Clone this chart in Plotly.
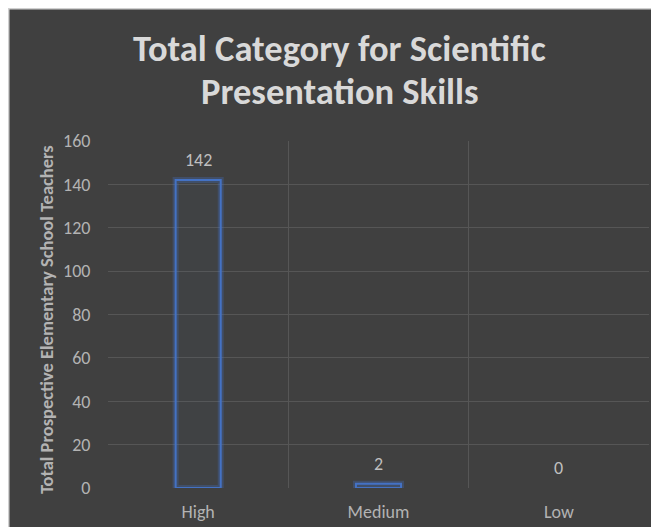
import plotly.graph_objects as go

categories = ["High", "Medium", "Low"]
values = [142, 2, 0]
y_ticks = [0, 20, 40, 60, 80, 100, 120, 140, 160]

title_lines = ["Total Category for Scientific", "Presentation Skills"]
y_title = "Total Prospective Elementary School Teachers"

FONT = "Carlito, Lato, 'Open Sans', sans-serif"
BG = "#404040"
BLUE = "#4472C4"
TXT = "#b3b3b3"

line_w = [2 if v > 0 else 0 for v in values]
glow_w = [6 if v > 0 else 0 for v in values]

fig = go.Figure()
# glow
fig.add_trace(go.Bar(
    x=categories, y=values, width=0.25,
    marker=dict(color="rgba(0,0,0,0)", line=dict(color="rgba(68,114,196,0.3)", width=glow_w)),
    hoverinfo="skip", showlegend=False,
))
fig.add_trace(go.Bar(
    x=categories, y=values, width=0.25,
    marker=dict(color="rgba(68,114,196,0.03)", line=dict(color=BLUE, width=line_w)),
    showlegend=False,
))

W, H = 651, 519
L, R, T, B = 100, 10, 133, 39
PW, PH = W - L - R, H - T - B

annotations = [
    dict(text=str(v), x=c, y=v, xref="x", yref="y", xanchor="center", yanchor="middle",
         yshift=20, showarrow=False, font=dict(family=FONT, size=18, color="#bfbfbf"))
    for c, v in zip(categories, values)
]
annotations += [
    dict(text="<b>%s</b>" % title_lines[0], x=0.4288, y=1.268, xref="paper", yref="paper",
         xanchor="center", yanchor="middle", showarrow=False,
         font=dict(family=FONT, size=36.5, color="#d9d9d9")),
    dict(text="<b>%s</b>" % title_lines[1], x=0.4288, y=1.144, xref="paper", yref="paper",
         xanchor="center", yanchor="middle", showarrow=False,
         font=dict(family=FONT, size=36.5, color="#d9d9d9")),
    dict(text="<b>%s</b>" % y_title, x=(46 - 8 - L) / PW, y=(H - B - (320 - 8)) / PH,
         xref="paper", yref="paper", xanchor="center", yanchor="middle", textangle=-90,
         showarrow=False, font=dict(family=FONT, size=18.5, color=TXT)),
]

fig.update_layout(
    width=W, height=H,
    margin=dict(l=L, r=R, t=T, b=B),
    paper_bgcolor=BG, plot_bgcolor=BG,
    barmode="overlay",
    font=dict(family=FONT, color=TXT, size=18),
    xaxis=dict(
        type="category", tickson="boundaries", showgrid=True, gridcolor="#565656", gridwidth=1,
        showline=False, ticks="", ticklabelstandoff=11, automargin=False,
        tickfont=dict(family=FONT, size=18, color=TXT),
        range=[-0.5, 2.5],
    ),
    yaxis=dict(
        range=[0, 160], tickvals=y_ticks, showgrid=True, gridcolor="#565656", gridwidth=1,
        zeroline=False, showline=False, ticks="outside", ticklen=13, tickcolor="rgba(0,0,0,0)",
        tickfont=dict(family=FONT, size=18, color=TXT), automargin=False,
    ),
    annotations=annotations,
    shapes=[
        dict(type="line", xref="paper", yref="paper", x0=-L / PW, x1=1 + R / PW,
             y0=1 + T / PH, y1=1 + T / PH, line=dict(color="#d0d0d0", width=3)),
        dict(type="line", xref="paper", yref="paper", x0=-L / PW, x1=-L / PW,
             y0=-B / PH, y1=1 + T / PH, line=dict(color="#d0d0d0", width=3)),
    ],
)

fig.write_html("out.html")
